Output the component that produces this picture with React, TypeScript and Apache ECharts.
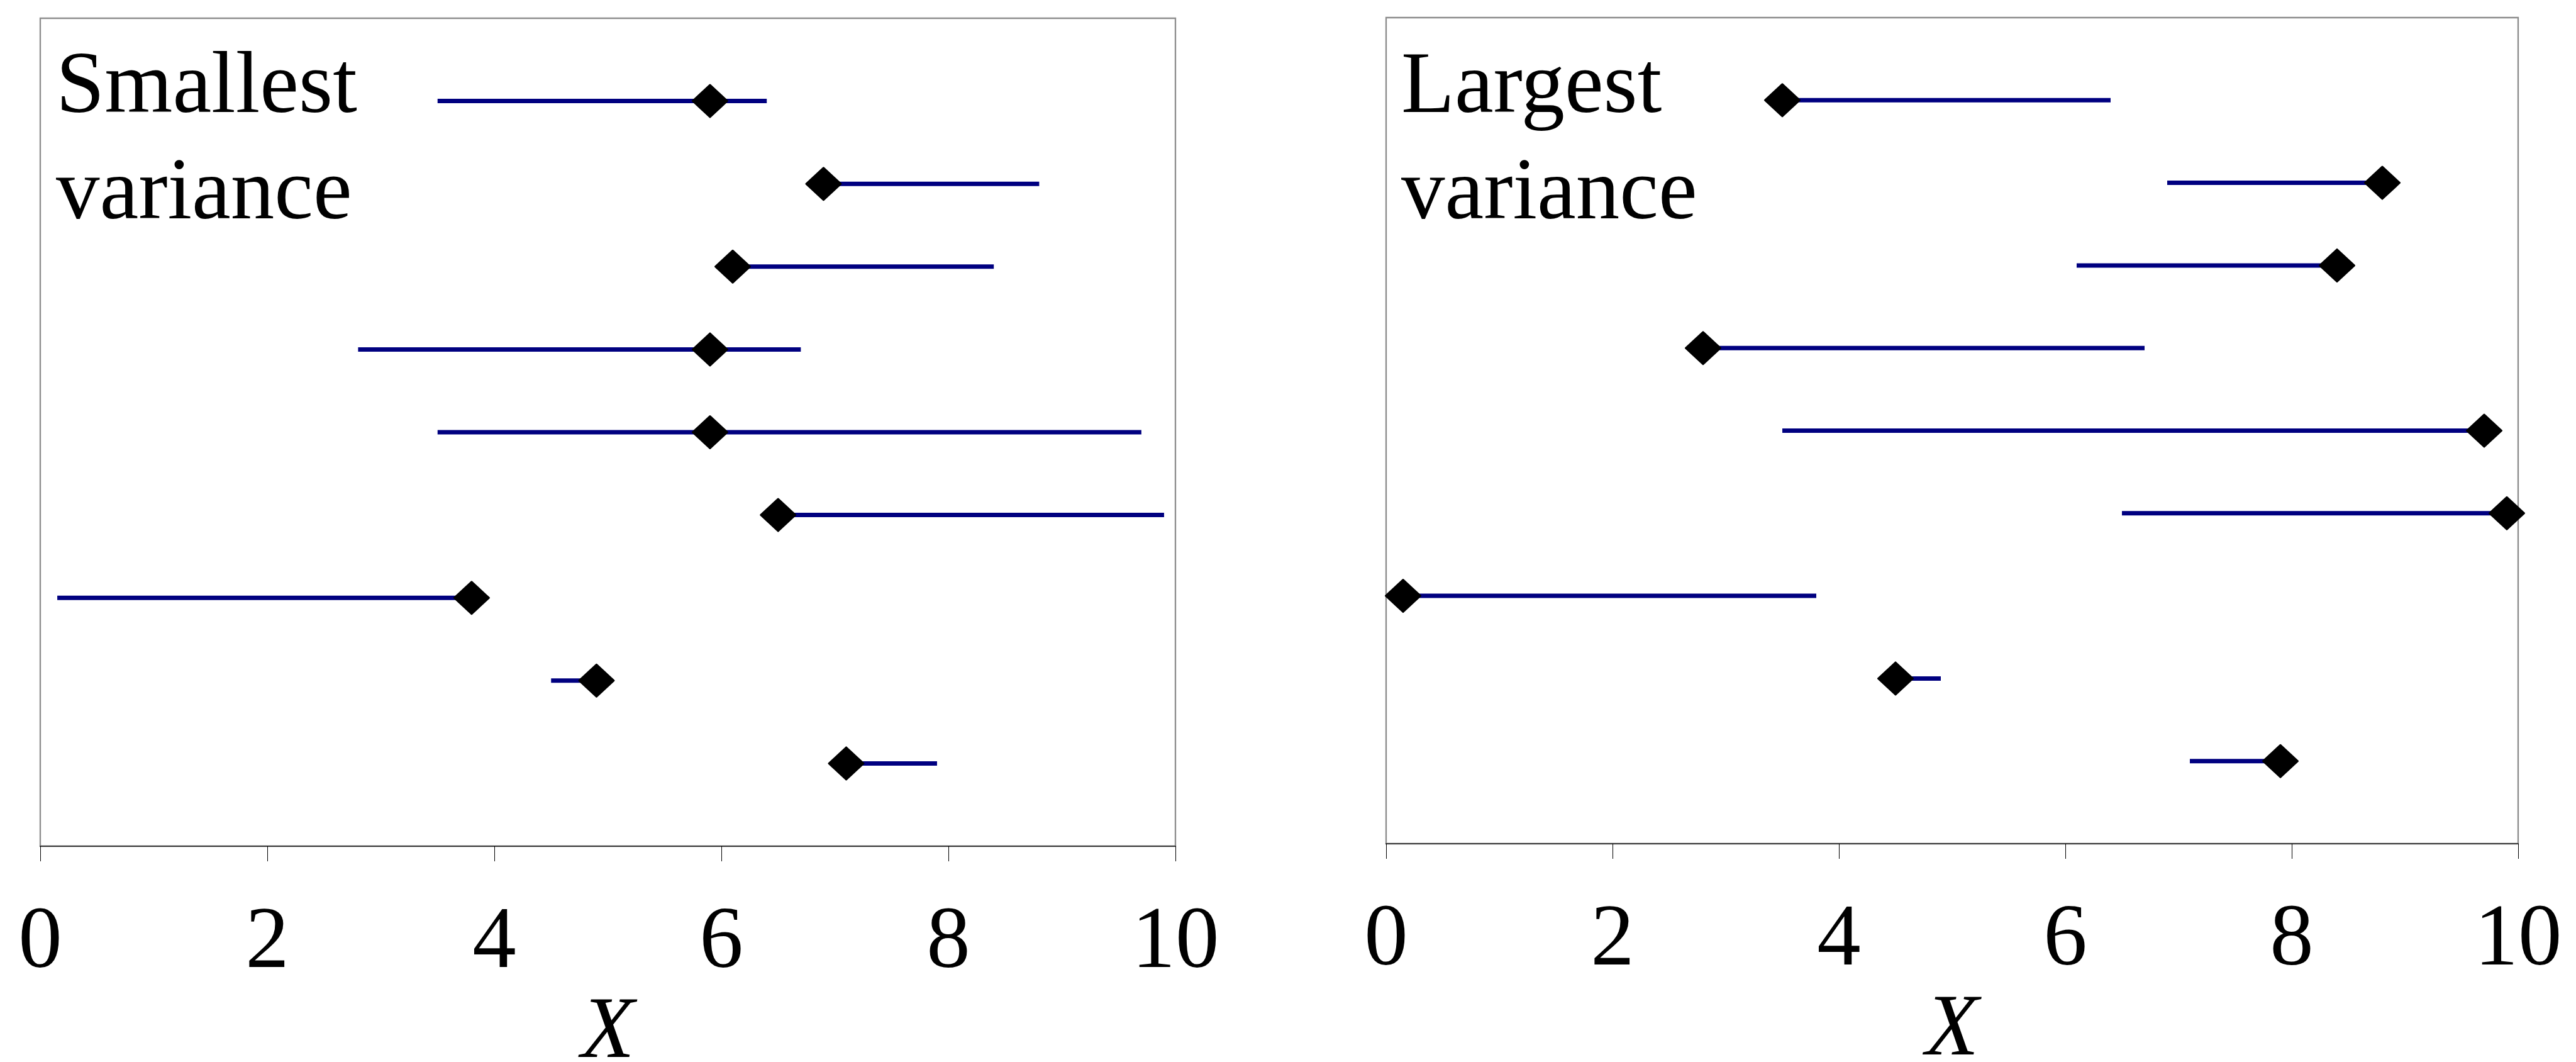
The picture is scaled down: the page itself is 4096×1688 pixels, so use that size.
import React, { useEffect, useRef } from "react";
import * as echarts from "echarts";

const rowY = [9, 8, 7, 6, 5, 4, 3, 2, 1];
const intervalLow = [3.5, 6.9, 6.1, 2.8, 3.5, 6.5, 0.15, 4.5, 7.1];
const intervalHigh = [6.4, 8.8, 8.4, 6.7, 9.7, 9.9, 3.8, 4.9, 7.9];
const smallestPoint = [5.9, 6.9, 6.1, 5.9, 5.9, 6.5, 3.8, 4.9, 7.1];
const largestPoint = [3.5, 8.8, 8.4, 2.8, 9.7, 9.9, 0.15, 4.5, 7.9];
const xTicks = [0, 2, 4, 6, 8, 10];
const panelTitles = [["Smallest", "variance"], ["Largest", "variance"]];
const axisName = "X";

const FONT = "'Liberation Serif', 'Times New Roman', serif";
const FS = 139;

export default function App() {
  const ref = useRef<HTMLDivElement>(null);
  useEffect(() => {
    const chart = echarts.init(ref.current!, null, { renderer: "svg" });
    const grids = [
      { left: 64, top: 29, width: 1805, height: 1316 },
      { left: 2204, top: 28, width: 1800, height: 1313 },
    ];
    const xAxis = grids.map((_, i) => ({
      type: "value",
      gridIndex: i,
      min: 0,
      max: 10,
      interval: 2,
      name: axisName,
      nameLocation: "middle",
      nameGap: 279,
      nameTextStyle: { fontSize: FS, lineHeight: 100, verticalAlign: "middle", fontFamily: FONT, fontStyle: "italic", color: "#000" },
      axisLine: { show: true, lineStyle: { color: "#3a3a3a", width: 2 } },
      axisTick: { show: true, inside: false, length: 24, lineStyle: { color: "#000", width: 1 } },
      axisLabel: {
        show: true,
        margin: 75,
        fontSize: FS,
        fontFamily: FONT,
        color: "#000",
        formatter: (v: number) => (xTicks.includes(v) ? String(v) : ""),
      },
      splitLine: { show: false },
    }));
    const yAxis = grids.map((_, i) => ({
      type: "value",
      gridIndex: i,
      min: 0,
      max: 10,
      show: false,
    }));
    const intervals = rowY.map((y, k) => [intervalLow[k], intervalHigh[k], y]);
    const lineSeries = grids.map((_, i) => ({
      type: "custom",
      xAxisIndex: i,
      yAxisIndex: i,
      data: intervals,
      encode: { x: [0, 1], y: 2 },
      z: 2,
      renderItem: (params: any, api: any) => {
        const lo = api.value(0);
        const hi = api.value(1);
        const y = api.value(2);
        const p1 = api.coord([lo, y]);
        const p2 = api.coord([hi, y]);
        return {
          type: "line",
          shape: { x1: p1[0], y1: p1[1], x2: p2[0], y2: p2[1] },
          style: { stroke: "#000080", lineWidth: 7 },
        };
      },
    }));
    const points = [smallestPoint, largestPoint];
    const markerSeries = grids.map((_, i) => ({
      type: "scatter",
      xAxisIndex: i,
      yAxisIndex: i,
      symbol: "diamond",
      symbolSize: [55, 51],
      clip: false,
      z: 5,
      itemStyle: { color: "#000", opacity: 1, borderColor: "#000", borderWidth: 3, borderJoin: "round" },
      data: rowY.map((y, k) => [points[i][k], y]),
    }));
    const titleX = [89, 2228];
    const graphic: any[] = [];
    panelTitles.forEach((lines, i) => {
      lines.forEach((t, j) => {
        graphic.push({
          type: "text",
          x: titleX[i],
          y: 131 + j * 169,
          z: 10,
          style: {
            text: t,
            font: `${FS}px ${FONT}`,
            fill: "#000",
            align: "left",
            verticalAlign: "middle",
          },
        });
      });
    });
    chart.setOption({
      animation: false,
      backgroundColor: "#fff",
      grid: grids.map((g) => ({
        ...g,
        show: true,
        outerBoundsMode: "none",
        containLabel: false,
        borderColor: "#8c8c8c",
        borderWidth: 2.3,
        backgroundColor: "transparent",
      })),
      xAxis,
      yAxis,
      series: [...lineSeries, ...markerSeries],
      graphic,
    });
    return () => chart.dispose();
  }, []);
  return (
    <div
      ref={ref}
      style={{ position: "fixed", left: 0, top: 0, width: 4096, height: 1688, background: "#fff" }}
    />
  );
}
